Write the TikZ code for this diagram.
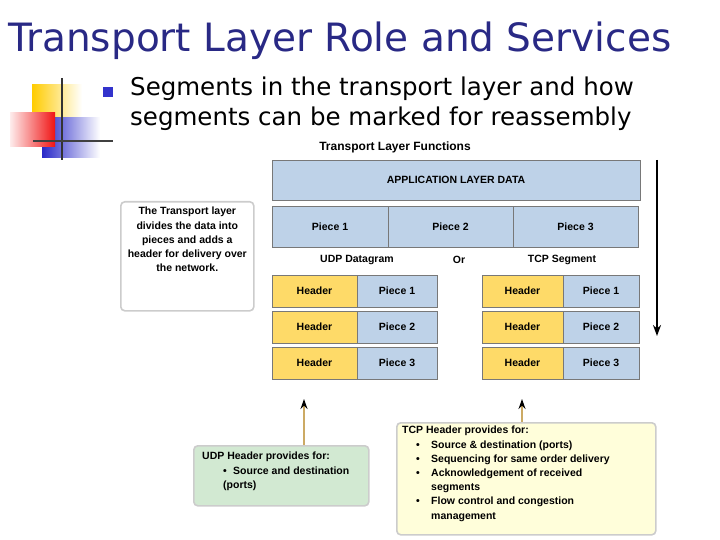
\documentclass[tikz,border=0pt]{standalone}
\usepackage{fontspec}
\setmainfont{Liberation Sans}
\newfontfamily\slidefont{DejaVu Sans}
\usetikzlibrary{arrows.meta,positioning}
\definecolor{titleblue}{RGB}{41,41,133}
\definecolor{bulletblue}{RGB}{51,51,204}
\definecolor{piececol}{RGB}{190,210,232}
\definecolor{hdrcol}{RGB}{254,218,104}
\definecolor{udpcol}{RGB}{210,233,210}
\definecolor{tcpcol}{RGB}{255,254,218}
\definecolor{edgecol}{RGB}{120,120,120}
\definecolor{tancol}{RGB}{204,170,100}
\definecolor{logoyellow}{RGB}{255,204,0}
\definecolor{logored}{RGB}{240,20,20}
\definecolor{logoblue}{RGB}{40,40,200}
\tikzset{
  block/.style    ={rectangle, draw=edgecol, line width=0.8pt, inner sep=0pt, outer sep=0pt,
                    minimum height=32, font=\fontsize{10.5}{12}\selectfont\bfseries},
  piece/.style    ={block, fill=piececol},
  hdr/.style      ={block, fill=hdrcol},
  notebox/.style  ={rectangle, rounded corners=4pt, draw=black!20, line width=1.6pt, fill=white},
  udpbox/.style   ={notebox, fill=udpcol},
  tcpbox/.style   ={notebox, fill=tcpcol},
  notetext/.style ={inner sep=0pt, font=\fontsize{10.5}{14.2}\selectfont\bfseries},
  lbl/.style      ={inner sep=0pt, font=\fontsize{10.5}{12}\selectfont\bfseries},
  hdrarrow/.style ={draw=tancol, line width=1.4pt, -{Stealth[length=10pt,width=7pt,color=black]}},
  flowarrow/.style={line width=2pt, -{Stealth[length=11pt,width=8pt]}},
}
\newcommand{\itm}[1]{\hspace*{14pt}\makebox[15pt][l]{\textbullet}#1}
\newcommand{\itmcont}[1]{\hspace*{29pt}#1}

\begin{document}
\begin{tikzpicture}[x=1pt, y=-1pt]
  \useasboundingbox (0,0) rectangle (720,540);

  % slide title, logo and bullet
  \node[anchor=base west, inner sep=0pt, text=titleblue,
        font=\slidefont\fontsize{39}{39}\selectfont] (title) at (8,52) {Transport Layer Role and Services};
  \shade[left color=logoyellow, middle color=logoyellow, right color=white] (32,85) rectangle (82,122);
  \shade[left color=logoblue, middle color=logoblue!85, right color=white] (42,118) rectangle (100,158);
  \shade[left color=logored!8, right color=logored] (10,113) rectangle (55,147);
  \draw[line width=2pt, black!80] (62,78) -- (62,160);
  \draw[line width=2pt, black!75] (33,141) -- (113,141);
  \fill[bulletblue] (103,87) rectangle (113,97);
  \node[anchor=north west, inner sep=0pt, align=left,
        font=\slidefont\fontsize{24.5}{30}\selectfont] (intro) at (130,77)
        {Segments in the transport layer and how\\segments can be marked for reassembly};

  % data split into pieces
  \node[lbl, font=\fontsize{12}{14}\selectfont\bfseries] (functions) at (395,147) {Transport Layer Functions};
  \node[piece, anchor=north west, minimum width=368, minimum height=40] (appdata) at (272,160) {APPLICATION LAYER DATA};
  \node[piece, anchor=north west, minimum width=116, minimum height=41] (piece1) at (272,206) {Piece 1};
  \node[piece, right=0pt of piece1, minimum width=125, minimum height=41] (piece2) {Piece 2};
  \node[piece, right=0pt of piece2, minimum width=125, minimum height=41] (piece3) {Piece 3};

  \node[lbl] (udplbl) at (357,260) {UDP Datagram};
  \node[lbl] (orlbl) at (459,260) {Or};
  \node[lbl] (tcplbl) at (562,260) {TCP Segment};

  % UDP datagrams
  \node[hdr, anchor=north west, minimum width=85] (udphdr1) at (272,275) {Header};
  \node[piece, right=0pt of udphdr1, minimum width=80] (udppc1) {Piece 1};
  \node[hdr, below=4pt of udphdr1, minimum width=85] (udphdr2) {Header};
  \node[piece, right=0pt of udphdr2, minimum width=80] (udppc2) {Piece 2};
  \node[hdr, below=4pt of udphdr2, minimum width=85] (udphdr3) {Header};
  \node[piece, right=0pt of udphdr3, minimum width=80] (udppc3) {Piece 3};

  % TCP segments
  \node[hdr, anchor=north west, minimum width=81] (tcphdr1) at (482,275) {Header};
  \node[piece, right=0pt of tcphdr1, minimum width=76] (tcppc1) {Piece 1};
  \node[hdr, below=4pt of tcphdr1, minimum width=81] (tcphdr2) {Header};
  \node[piece, right=0pt of tcphdr2, minimum width=76] (tcppc2) {Piece 2};
  \node[hdr, below=4pt of tcphdr2, minimum width=81] (tcphdr3) {Header};
  \node[piece, right=0pt of tcphdr3, minimum width=76] (tcppc3) {Piece 3};

  \coordinate (flowtop) at (657,160);
  \coordinate (flowend) at (657,336);
  \draw[flowarrow] (flowtop) -- (flowend);

  % notes
  \node[notebox, anchor=north west, minimum width=133, minimum height=109] (divnote) at (120,201) {};
  \node[notetext, align=center, below=6pt of divnote.north] (divtext)
    {The Transport layer\\divides the data into\\pieces and adds a\\header for delivery over\\the network.};

  \node[udpbox, anchor=north west, minimum width=175, minimum height=60] (udpnote) at (193,445) {};
  \node[notetext, align=left, anchor=north west] (udptext) at ([shift={(9,7)}]udpnote.north west)
    {UDP Header provides for:\\
     \hspace*{21pt}\makebox[10pt][l]{\textbullet}Source and destination\\
     \hspace*{21pt}(ports)};

  \node[tcpbox, anchor=north west, minimum width=259, minimum height=112] (tcpnote) at (396,422) {};
  \node[notetext, align=left, anchor=north west] (tcptext) at ([shift={(6,4)}]tcpnote.north west)
    {TCP Header provides for:\\
     \itm{Source \& destination (ports)}\\
     \itm{Sequencing for same order delivery}\\
     \itm{Acknowledgement of received}\\
     \itmcont{segments}\\
     \itm{Flow control and congestion}\\
     \itmcont{management}};

  \coordinate (udptip) at (304,399);
  \coordinate (tcptip) at (522,399);
  \draw[hdrarrow] (udptip |- udpnote.north) -- (udptip);
  \draw[hdrarrow] (tcptip |- tcpnote.north) -- (tcptip);
\end{tikzpicture}
\end{document}
